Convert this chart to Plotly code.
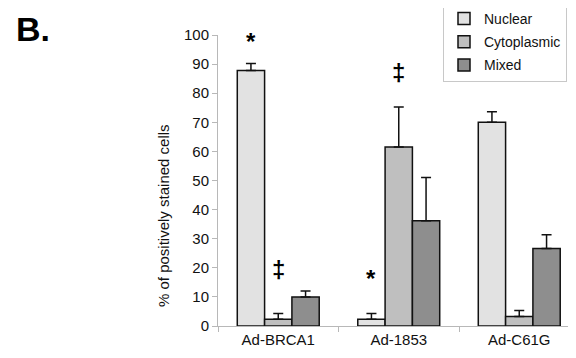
import plotly.graph_objects as go

categories = ["Ad-BRCA1", "Ad-1853", "Ad-C61G"]
series_names = ["Nuclear", "Cytoplasmic", "Mixed"]
nuclear = [87.8, 2.3, 70.0]
nuclear_err = [2.4, 2.0, 3.6]
cytoplasmic = [2.3, 61.5, 3.3]
cytoplasmic_err = [2.0, 13.8, 2.0]
mixed = [10.0, 36.2, 26.6]
mixed_err = [2.0, 14.8, 4.8]
y_ticks = [0, 10, 20, 30, 40, 50, 60, 70, 80, 90, 100]

colors = ["#e2e2e2", "#bfbfbf", "#8e8e8e"]
values = [nuclear, cytoplasmic, mixed]
errors = [nuclear_err, cytoplasmic_err, mixed_err]

# the page body has an 8px default margin, so the figure is laid out in
# page coordinates minus OFF
OFF = 8
W, H = 576 - OFF, 358 - OFF
L = 218 - OFF
T = 35 - OFF
R = 0
B = H - (326 - OFF)
pw = W - L - R
ph = H - T - B
cat_px = 120.5


def px_x(page_x):
    return (page_x - OFF - L) / pw


def px_y(page_y):
    return (H - B - (page_y - OFF)) / ph


fig = go.Figure()
for i, name in enumerate(series_names):
    fig.add_trace(go.Bar(
        x=categories, y=values[i], name=name, legendgroup=name,
        marker=dict(color=colors[i], line=dict(color="#111111", width=1.5)),
        error_y=dict(type="data", array=errors[i], arrayminus=[0] * 3,
                     symmetric=False, color="#111111", thickness=1.5, width=5),
    ))

bar_px = cat_px * 0.68 / 3
# significance marks: (category index, series index, symbol, pixel gap above error cap)
marks = [(0, 0, "*", 22), (0, 1, "‡", 44), (1, 0, "*", 35), (1, 1, "‡", 34)]
annotations = []
for ci, si, sym, gap in marks:
    top = values[si][ci] + errors[si][ci]
    annotations.append(dict(
        x=categories[ci], y=top, xref="x", yref="y", text="<b>%s</b>" % sym,
        showarrow=False, xshift=(si - 1) * bar_px, yshift=gap,
        yanchor="middle", font=dict(size=24, color="#000000", family="Liberation Sans, Arial"),
    ))

annotations.append(dict(
    x=px_x(15), y=px_y(8.5), xref="paper", yref="paper",
    xanchor="left", yanchor="top", showarrow=False, text="<b>B.</b>",
    borderpad=0,
    font=dict(size=34, color="#000000", family="Liberation Sans, Arial"),
))
annotations.append(dict(
    x=px_x(163), y=px_y(216), xref="paper", yref="paper",
    xanchor="center", yanchor="middle", showarrow=False, textangle=-90,
    text="% of positively stained cells",
    font=dict(size=15, color="#111111", family="Liberation Sans, Arial"),
))

fig.update_layout(
    width=W, height=H,
    margin=dict(l=L, r=R, t=T, b=B, pad=0, autoexpand=False),
    paper_bgcolor="white", plot_bgcolor="white",
    barmode="group", bargap=0.32, bargroupgap=0,
    font=dict(family="Liberation Sans, Arial", size=15, color="#111111"),
    showlegend=True,
    legend=dict(
        x=px_x(443), y=px_y(2), xanchor="left", yanchor="top",
        bgcolor="white", bordercolor="#c8c8c8", borderwidth=1,
        font=dict(size=14, color="#111111"), tracegroupgap=2,
        itemwidth=30,
    ),
    annotations=annotations,
    xaxis=dict(
        range=[-0.5, -0.5 + pw / cat_px], showline=True, linecolor="#b8b8b8", linewidth=1,
        ticks="outside", tickson="boundaries", ticklen=5, tickcolor="#b8b8b8",
        showgrid=False, zeroline=False, tickfont=dict(size=15), fixedrange=True,
    ),
    yaxis=dict(
        range=[0, 100], tickvals=y_ticks, showline=True, linecolor="#b8b8b8", linewidth=1,
        ticks="outside", ticklen=5, tickcolor="#b8b8b8", showgrid=False, zeroline=False,
        tickfont=dict(size=15), fixedrange=True,
    ),
)

fig.write_html("out.html")
